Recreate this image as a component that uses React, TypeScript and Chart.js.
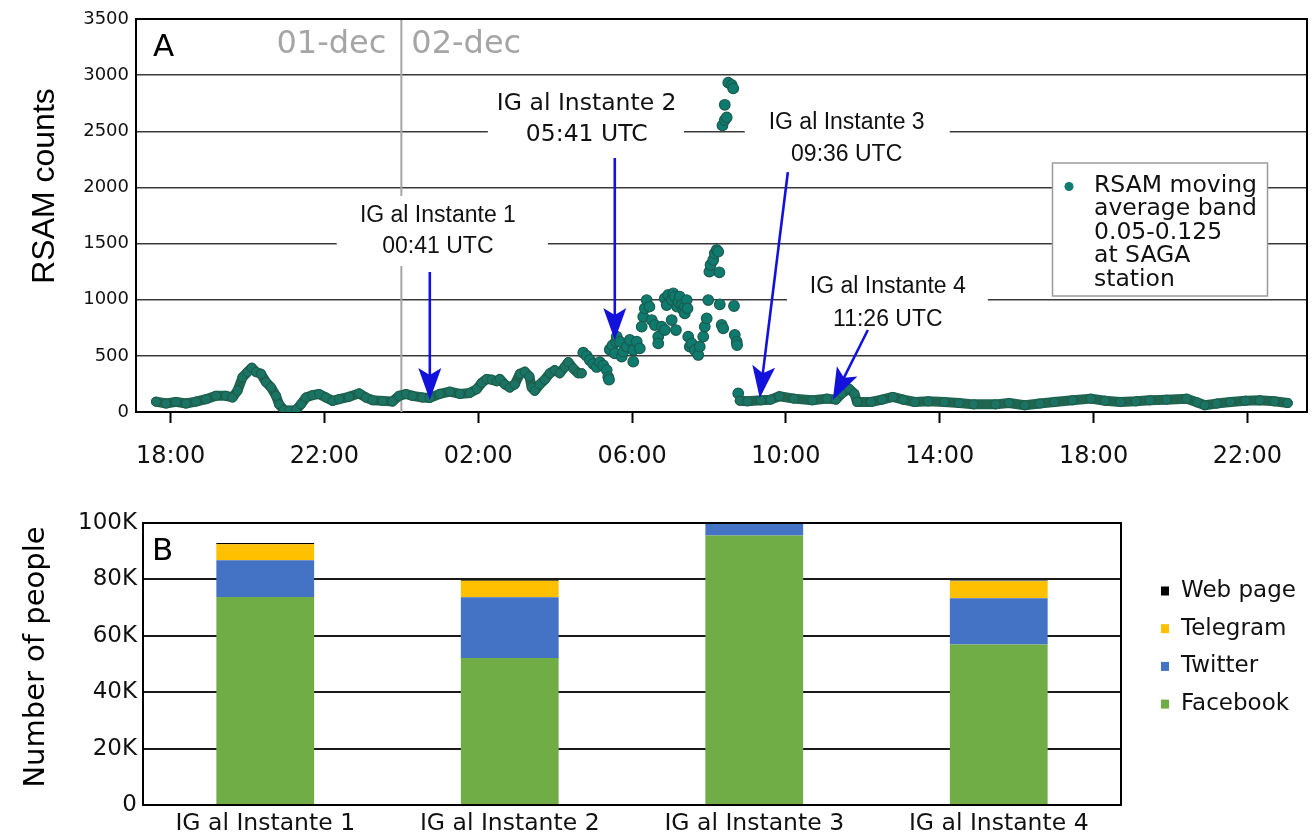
import React, { useEffect, useRef } from "react";
import { Chart, registerables } from "chart.js";

Chart.register(...registerables);

// ---------------- Panel A: RSAM (x = hours counted from 01-dec 00:00 UTC) ----------------
const EVE_HOURS = [
  17.62, 17.88, 18.14, 18.4, 18.66, 18.92, 19.18, 19.44, 19.61, 19.74, 19.87, 20.0, 20.11, 20.22,
  20.35, 20.48, 20.61, 20.74, 20.82, 20.95, 21.08, 21.26, 21.39, 21.52, 21.69, 21.86, 22.04, 22.21,
  22.38, 22.64, 22.9, 23.08, 23.25, 23.51, 23.77, 23.94, 24.12, 24.29, 24.55, 24.74, 25.0, 25.26,
  25.52, 25.78, 25.96, 26.09, 26.22, 26.35, 26.48, 26.56, 26.69, 26.82, 26.95, 27.08, 27.21, 27.33,
  27.39, 27.47, 27.6, 27.73, 27.86, 27.99, 28.12, 28.25, 28.34, 28.47, 28.6, 28.69,
];
const EVE_RSAM = [
  92, 76, 90, 76, 93, 114, 144, 144, 129, 190, 310, 356, 395, 356, 340, 266, 220, 144, 69, 18, 12,
  18, 69, 129, 150, 160, 129, 99, 114, 135, 166, 129, 105, 99, 93, 144, 160, 144, 129, 125, 161,
  181, 161, 170, 203, 260, 294, 288, 274, 294, 246, 218, 246, 339, 359, 316, 218, 189, 246, 288,
  345, 373, 345, 401, 444, 387, 345, 345,
];

const PEAK_HOURS = [
  28.73, 28.82, 28.9, 28.99, 29.08, 29.16, 29.25, 29.34, 29.38, 29.4, 29.42, 29.49, 29.55, 29.58,
  29.6, 29.68, 29.73, 29.77, 29.86, 29.94, 30.03, 30.03, 30.12, 30.2, 30.25, 30.29, 30.33, 30.38,
  30.45, 30.51, 30.59, 30.68, 30.68, 30.77, 30.85, 30.85, 30.9, 30.94, 31.03, 31.03, 31.07, 31.11,
  31.14, 31.17, 31.2, 31.24, 31.29, 31.33, 31.37, 31.37, 31.42, 31.44, 31.46, 31.5, 31.55, 31.63,
  31.72, 31.76, 31.85, 31.89, 31.94, 31.98, 32.01, 32.04, 32.11, 32.15, 32.2, 32.24, 32.27, 32.28,
  32.33, 32.37, 32.35, 32.41, 32.46, 32.41, 32.5, 32.59, 32.63, 32.65, 32.67, 32.72, 32.73, 32.76,
];
const PEAK_RSAM = [
  528, 500, 463, 429, 401, 444, 415, 373, 311, 288, 557, 593, 522, 627, 671, 626, 493, 537, 582,
  641, 552, 448, 626, 567, 760, 849, 923, 997, 938, 819, 775, 671, 611, 760, 730, 1012, 953, 1042,
  997, 819, 1057, 1027, 730, 938, 982, 1027, 953, 908, 938, 878, 997, 923, 671, 582, 611, 552, 508,
  582, 671, 760, 834, 997, 1250, 1309, 1354, 1413, 1443, 1428, 1244, 959, 775, 745, 2552, 2600,
  2624, 2736, 2933, 2912, 2882, 944, 686, 626, 596, 166,
];

const DAY_HOURS = [
  32.8, 33.0, 33.35, 33.6, 33.83, 34.21, 34.69, 35.07, 35.3, 35.45, 35.64, 35.78, 35.85, 36.21,
  36.5, 36.78, 37.05, 37.35, 37.7, 38.12, 38.5, 38.88, 39.45, 39.8, 40.21, 40.6, 40.98, 41.45,
  41.93, 42.3, 42.7, 43.1, 43.46, 43.9, 44.42, 44.7, 44.89, 45.2, 45.56, 45.95, 46.32, 46.7, 47.05,
];
const DAY_RSAM = [
  101, 95, 104, 110, 140, 119, 104, 119, 110, 164, 208, 164, 89, 89, 110, 134, 110, 89, 95, 89, 80,
  68, 68, 80, 60, 75, 89, 104, 119, 100, 89, 95, 104, 110, 119, 85, 60, 75, 89, 100, 104, 95, 80,
];

const HOUR_TICKS = [18, 22, 26, 30, 34, 38, 42, 46];
const DAY_BOUNDARY = 24;
const X_MIN = 17.1;
const X_MAX = 47.55;
const RSAM_MAX = 3500;
const RSAM_STEP = 500;
const DAY_LABELS = ["01-dec", "02-dec"];
const LEGEND_A_LINES = ["RSAM moving", "average band", "0.05-0.125", "at SAGA", "station"];

const ANNOTATIONS = [
  { lines: ["IG al Instante 1", "00:41 UTC"], serif: false, at: [24.95, 1746, 1469], box: [22.32, 27.81, 1924, 1300], tail: [24.74, 1247], tip: [24.74, 107] },
  { lines: ["IG al Instante 2", "05:41 UTC"], serif: true, at: [28.82, 2748, 2471], box: [26.25, 31.35, 2912, 2316], tail: [29.55, 2262], tip: [29.55, 641] },
  { lines: ["IG al Instante 3", "09:36 UTC"], serif: false, at: [35.58, 2574, 2289], box: [32.93, 38.26, 2707, 2137], tail: [34.05, 2137], tip: [33.32, 125] },
  { lines: ["IG al Instante 4", "11:26 UTC"], serif: false, at: [36.65, 1113, 819], box: [34.03, 39.25, 1247, 677], tail: [36.13, 730], tip: [35.22, 107] },
];

// ---------------- Panel B: people reached ----------------
const CATEGORIES = ["IG al Instante 1", "IG al Instante 2", "IG al Instante 3", "IG al Instante 4"];
const FACEBOOK = [73800, 52100, 95600, 56900];
const TWITTER = [13000, 21600, 4800, 16400];
const TELEGRAM = [5700, 5800, 1500, 6000];
const WEB_PAGE = [400, 300, 200, 300];
const PEOPLE_TICKS = [0, 20000, 40000, 60000, 80000, 100000];

const DEJAVU = "'DejaVu Sans', Verdana, sans-serif";
const ARIAL = "'Liberation Sans', Arial, sans-serif";
const BLUE = "#1212dc";

function pairs(xs: number[], ys: number[]) {
  return xs.map((x, i) => ({ x, y: ys[i] }));
}

function drawArrow(ctx: CanvasRenderingContext2D, x1: number, y1: number, x2: number, y2: number) {
  const dx = x2 - x1;
  const dy = y2 - y1;
  const len = Math.hypot(dx, dy);
  const ux = dx / len;
  const uy = dy / len;
  const L = 32;
  const W = 11.5;
  const bx = x2 - ux * L;
  const by = y2 - uy * L;
  ctx.strokeStyle = BLUE;
  ctx.lineWidth = 2.6;
  ctx.beginPath();
  ctx.moveTo(x1, y1);
  ctx.lineTo(bx + ux * 8, by + uy * 8);
  ctx.stroke();
  ctx.fillStyle = BLUE;
  ctx.beginPath();
  ctx.moveTo(x2, y2);
  ctx.lineTo(bx - uy * W, by + ux * W);
  ctx.lineTo(bx + ux * 7, by + uy * 7);
  ctx.lineTo(bx + uy * W, by - ux * W);
  ctx.closePath();
  ctx.fill();
}

const panelADecor = {
  id: "panelADecor",
  beforeDatasetsDraw(chart: any) {
    const { ctx, chartArea: a, scales } = chart;
    const x = scales.x;
    const y = scales.y;
    ctx.save();
    const dx = x.getPixelForValue(DAY_BOUNDARY);
    ctx.strokeStyle = "#a5a5a5";
    ctx.lineWidth = 2;
    ctx.beginPath();
    ctx.moveTo(dx, a.top);
    ctx.lineTo(dx, a.bottom);
    ctx.stroke();

    ctx.fillStyle = "#ffffff";
    for (const an of ANNOTATIONS) {
      const l = x.getPixelForValue(an.box[0]);
      const r = x.getPixelForValue(an.box[1]);
      const t = y.getPixelForValue(an.box[2]);
      const b = y.getPixelForValue(an.box[3]);
      ctx.fillRect(l, t, r - l, b - t);
    }
    ctx.fillStyle = "#111";
    ctx.textAlign = "center";
    ctx.textBaseline = "middle";
    for (const an of ANNOTATIONS) {
      ctx.font = an.serif ? `23.5px ${DEJAVU}` : `23px ${ARIAL}`;
      const cx = x.getPixelForValue(an.at[0]);
      an.lines.forEach((s, i) => ctx.fillText(s, cx, y.getPixelForValue(an.at[1 + i])));
    }

    ctx.font = `32px ${DEJAVU}`;
    ctx.fillStyle = "#a5a5a5";
    ctx.textAlign = "right";
    ctx.fillText(DAY_LABELS[0], dx - 15, a.top + 26);
    ctx.textAlign = "left";
    ctx.fillText(DAY_LABELS[1], dx + 10, a.top + 26);

    ctx.fillStyle = "#000";
    ctx.font = `31px ${DEJAVU}`;
    ctx.fillText("A", a.left + 17, a.top + 29);

    ctx.strokeStyle = "#000";
    ctx.lineWidth = 2;
    ctx.beginPath();
    ctx.moveTo(a.left, a.top);
    ctx.lineTo(a.right, a.top);
    ctx.lineTo(a.right, a.bottom);
    ctx.stroke();
    ctx.restore();
  },
  afterDatasetsDraw(chart: any) {
    const { ctx, chartArea: a, scales } = chart;
    const x = scales.x;
    const y = scales.y;
    ctx.save();
    for (const an of ANNOTATIONS) {
      drawArrow(
        ctx,
        x.getPixelForValue(an.tail[0]),
        y.getPixelForValue(an.tail[1]),
        x.getPixelForValue(an.tip[0]),
        y.getPixelForValue(an.tip[1])
      );
    }
    // legend box
    const lx = a.right - 254.5;
    const ly = a.top + 144;
    ctx.fillStyle = "#fff";
    ctx.fillRect(lx, ly, 215, 133);
    ctx.strokeStyle = "#9a9a9a";
    ctx.lineWidth = 1.5;
    ctx.strokeRect(lx, ly, 215, 133);
    ctx.fillStyle = "#0f7b6f";
    ctx.beginPath();
    ctx.arc(lx + 16.5, ly + 23.5, 4.5, 0, Math.PI * 2);
    ctx.fill();
    ctx.fillStyle = "#111";
    ctx.font = `23.5px ${DEJAVU}`;
    ctx.textAlign = "left";
    ctx.textBaseline = "alphabetic";
    LEGEND_A_LINES.forEach((s, i) => ctx.fillText(s, lx + 41.5, ly + 29 + i * 23.4));

    // y title
    ctx.save();
    ctx.translate(45, a.top + 167);
    ctx.rotate(-Math.PI / 2);
    ctx.font = `32px ${ARIAL}`;
    ctx.textAlign = "center";
    ctx.textBaseline = "middle";
    ctx.fillStyle = "#000";
    ctx.fillText("RSAM counts", 0, 0);
    ctx.restore();
    ctx.restore();
  },
};

const panelBDecor = {
  id: "panelBDecor",
  afterDraw(chart: any) {
    const { ctx, chartArea: a } = chart;
    ctx.save();
    ctx.strokeStyle = "#000";
    ctx.lineWidth = 2;
    ctx.beginPath();
    ctx.moveTo(a.left, a.top);
    ctx.lineTo(a.right, a.top);
    ctx.lineTo(a.right, a.bottom);
    ctx.stroke();

    ctx.fillStyle = "#000";
    ctx.font = `31px ${DEJAVU}`;
    ctx.textAlign = "left";
    ctx.textBaseline = "middle";
    ctx.fillText("B", a.left + 9, a.top + 29);

    ctx.save();
    ctx.translate(36, a.top + 134);
    ctx.rotate(-Math.PI / 2);
    ctx.font = `29px ${DEJAVU}`;
    ctx.textAlign = "center";
    ctx.textBaseline = "middle";
    ctx.fillText("Number of people", 0, 0);
    ctx.restore();

    const ds = chart.data.datasets.slice().reverse();
    ctx.font = `23px ${DEJAVU}`;
    ds.forEach((d: any, i: number) => {
      const cy = a.top + 68 + i * 37.7;
      ctx.fillStyle = d.backgroundColor;
      ctx.fillRect(a.right + 40, cy - 4.5, 8, 9);
      ctx.fillStyle = "#111";
      ctx.fillText(d.label, a.right + 60, cy);
    });
    ctx.restore();
  },
};

function zeroPad(s: any) {
  s.paddingTop = 0;
  s.paddingBottom = 0;
  s.paddingLeft = 0;
  s.paddingRight = 0;
}

export default function App() {
  const topRef = useRef<HTMLCanvasElement>(null);
  const botRef = useRef<HTMLCanvasElement>(null);

  useEffect(() => {
    const pointStyle = {
      pointRadius: 4.6,
      pointBackgroundColor: "#1a7363",
      pointBorderColor: "#1c5b49",
      pointBorderWidth: 1,
    };
    const top = new Chart(topRef.current as HTMLCanvasElement, {
      type: "scatter",
      data: {
        datasets: [
          {
            label: "eve",
            data: pairs(EVE_HOURS, EVE_RSAM),
            showLine: true,
            borderColor: "#1f6550",
            borderWidth: 10,
            borderJoinStyle: "round",
            borderCapStyle: "round",
            clip: 0,
            ...pointStyle,
          } as any,
          {
            label: "day",
            data: pairs(DAY_HOURS, DAY_RSAM),
            showLine: true,
            borderColor: "#1f6550",
            borderWidth: 10,
            borderJoinStyle: "round",
            borderCapStyle: "round",
            clip: 0,
            ...pointStyle,
          } as any,
          {
            label: "peak",
            data: pairs(PEAK_HOURS, PEAK_RSAM),
            showLine: false,
            pointRadius: 5.3,
            pointBackgroundColor: "#0f7b6f",
            pointBorderColor: "#1a5c50",
            pointBorderWidth: 1.2,
            clip: 0,
          } as any,
        ],
      },
      options: {
        animation: false,
        responsive: false,
        maintainAspectRatio: false,
        layout: { padding: { top: 19, right: 7, left: 0, bottom: 0 } },
        plugins: { legend: { display: false }, tooltip: { enabled: false } },
        scales: {
          x: {
            type: "linear",
            min: X_MIN,
            max: X_MAX,
            afterBuildTicks: (s: any) => {
              s.ticks = HOUR_TICKS.map((v) => ({ value: v }));
            },
            ticks: {
              callback: (v: any) => String(((Number(v) % 24) + 24) % 24).padStart(2, "0") + ":00",
              font: { family: DEJAVU, size: 24 },
              color: "#111",
              padding: 19,
              maxRotation: 0,
              autoSkip: false,
            },
            grid: { drawOnChartArea: false, drawTicks: true, tickLength: 11, color: "#000", tickWidth: 2 },
            border: { display: true, color: "#000", width: 2 },
            afterFit: (s: any) => {
              s.height = 58;
              zeroPad(s);
            },
          },
          y: {
            min: 0,
            max: RSAM_MAX,
            ticks: {
              stepSize: RSAM_STEP,
              callback: (v: any) => String(v),
              font: { family: DEJAVU, size: 18 },
              color: "#111",
              padding: 7,
            },
            grid: { color: "#3a3a3a", lineWidth: 1.5, drawTicks: false },
            border: { display: true, color: "#000", width: 2 },
            afterFit: (s: any) => {
              s.width = 136;
              zeroPad(s);
            },
          },
        },
      },
      plugins: [panelADecor],
    });

    const bottom = new Chart(botRef.current as HTMLCanvasElement, {
      type: "bar",
      data: {
        labels: CATEGORIES,
        datasets: [
          { label: "Facebook", data: FACEBOOK, backgroundColor: "#70AD47" },
          { label: "Twitter", data: TWITTER, backgroundColor: "#4472C4" },
          { label: "Telegram", data: TELEGRAM, backgroundColor: "#FFC000" },
          { label: "Web page", data: WEB_PAGE, backgroundColor: "#000000" },
        ],
      },
      options: {
        animation: false,
        responsive: false,
        maintainAspectRatio: false,
        layout: { padding: { top: 53, right: 193, left: 0, bottom: 0 } },
        plugins: { legend: { display: false }, tooltip: { enabled: false } },
        datasets: { bar: { categoryPercentage: 1, barPercentage: 0.4, clip: 0 } as any },
        scales: {
          x: {
            stacked: true,
            ticks: { font: { family: DEJAVU, size: 23.5 }, color: "#111", padding: 5, maxRotation: 0, autoSkip: false },
            grid: { display: false, drawTicks: false },
            border: { display: true, color: "#000", width: 2 },
            afterFit: (s: any) => {
              s.height = 32;
              zeroPad(s);
            },
          },
          y: {
            stacked: true,
            min: 0,
            max: 100000,
            afterBuildTicks: (s: any) => {
              s.ticks = PEOPLE_TICKS.map((v) => ({ value: v }));
            },
            ticks: {
              callback: (v: any) => (Number(v) === 0 ? "0" : Number(v) / 1000 + "K"),
              font: { family: DEJAVU, size: 23 },
              color: "#111",
              padding: 6,
            },
            grid: { color: "#1a1a1a", lineWidth: 2, drawTicks: false },
            border: { display: true, color: "#000", width: 2 },
            afterFit: (s: any) => {
              s.width = 143;
              zeroPad(s);
            },
          },
        },
      },
      plugins: [panelBDecor],
    });

    return () => {
      top.destroy();
      bottom.destroy();
    };
  }, []);

  return (
    <div style={{ position: "fixed", left: 0, top: 0, width: 1314, height: 837, background: "#fff" }}>
      <canvas
        ref={topRef}
        width={1314}
        height={470}
        style={{ position: "absolute", left: 0, top: 0, width: 1314, height: 470 }}
      />
      <canvas
        ref={botRef}
        width={1314}
        height={367}
        style={{ position: "absolute", left: 0, top: 470, width: 1314, height: 367 }}
      />
    </div>
  );
}
